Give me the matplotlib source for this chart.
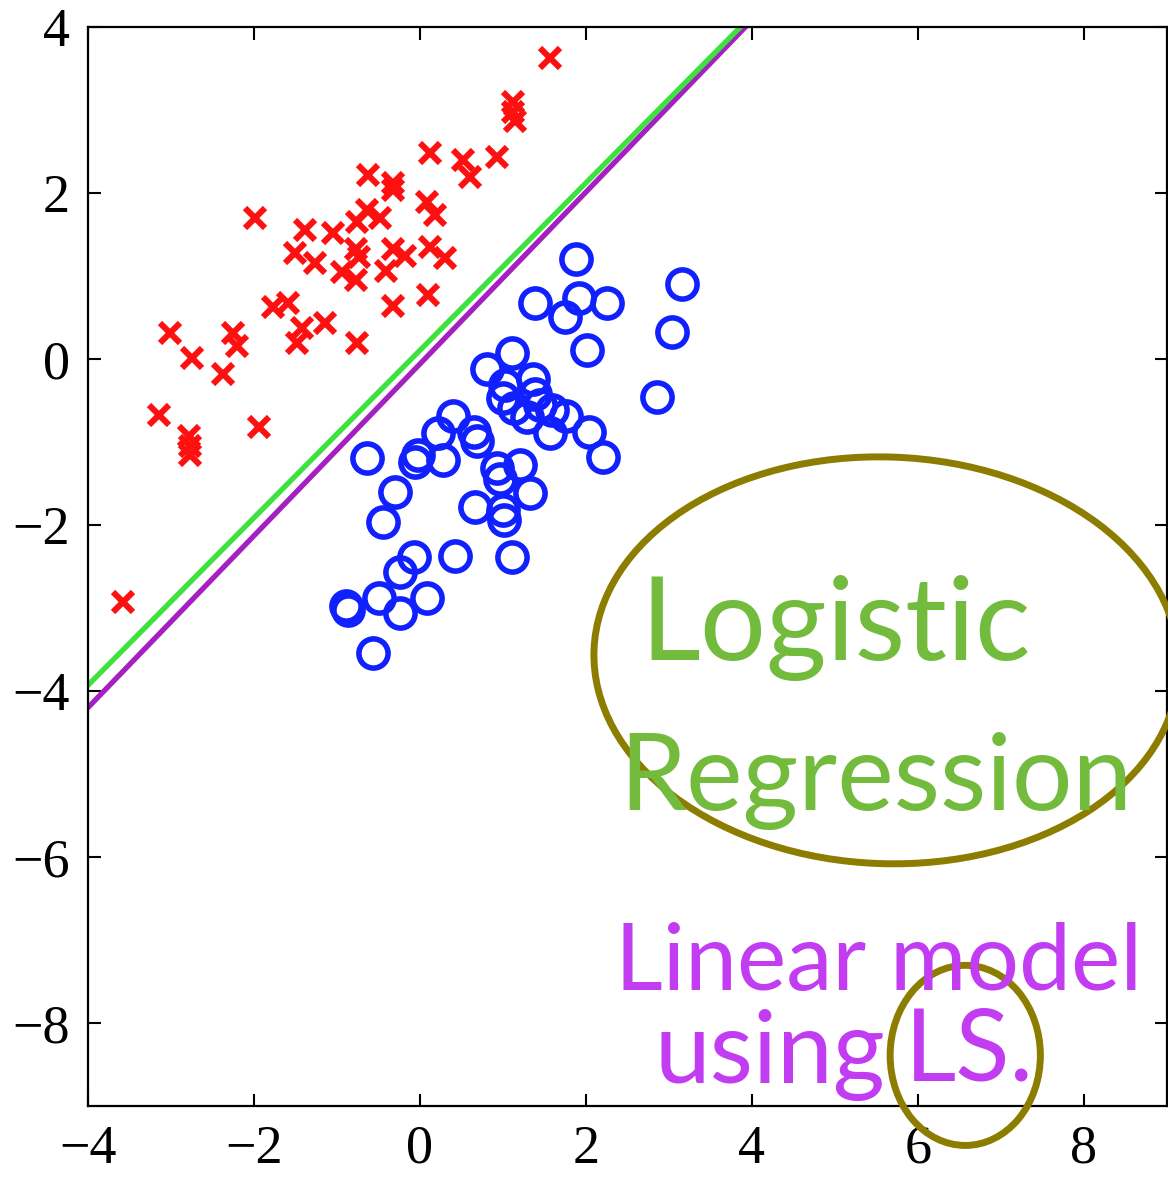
import matplotlib
matplotlib.use("Agg")
import matplotlib.pyplot as plt
from matplotlib.patches import Ellipse

# class 1 (red crosses)
red_x = [1.57, 1.12, 1.12, 1.14, 0.12, 0.52, 0.60, 0.93, -0.63, -0.33, -0.33, 0.08, 0.18,
         -0.64, -0.48, -0.76, -1.99, -1.39, -1.05, -1.51, -1.27, -0.77, -0.73, -0.94, -0.77,
         -0.41, -0.33, -0.18, 0.12, 0.30, -0.33, 0.10, -1.77, -1.59, -1.42, -1.48, -1.14,
         -0.76, -3.01, -2.75, -2.25, -2.20, -2.37, -3.14, -2.78, -2.77, -2.77, -1.94, -3.58]
red_y = [3.63, 3.10, 2.98, 2.87, 2.48, 2.40, 2.19, 2.43, 2.22, 2.12, 2.04, 1.89, 1.73,
         1.80, 1.70, 1.65, 1.70, 1.55, 1.52, 1.28, 1.16, 1.33, 1.23, 1.05, 0.95,
         1.06, 1.33, 1.24, 1.35, 1.22, 0.64, 0.77, 0.63, 0.67, 0.37, 0.19, 0.43,
         0.19, 0.31, 0.01, 0.31, 0.16, -0.18, -0.67, -0.93, -1.05, -1.16, -0.82, -2.93]

# class 2 (blue circles)
blue_x = [1.88, 1.39, 1.92, 2.25, 1.75, 2.01, 3.16, 3.04, 2.86, 1.11, 0.81, 1.02, 1.36,
          1.00, 1.13, 1.39, 1.45, 1.59, 1.29, 1.57, 1.76, 2.04, 2.20, 0.40, 0.22, 0.65,
          0.69, -0.64, -0.02, -0.06, 0.28, 0.93, 1.20, 0.96, 1.33, 0.66, 1.00, 1.01,
          -0.30, -0.45, 0.42, 1.11, -0.07, -0.24, -0.89, -0.87, -0.49, -0.24, 0.08, -0.57]
blue_y = [1.20, 0.67, 0.73, 0.67, 0.51, 0.11, 0.90, 0.33, -0.46, 0.07, -0.12, -0.31, -0.24,
          -0.47, -0.59, -0.42, -0.55, -0.61, -0.70, -0.89, -0.69, -0.88, -1.18, -0.69, -0.89, -0.88,
          -0.99, -1.19, -1.16, -1.24, -1.22, -1.31, -1.28, -1.45, -1.61, -1.78, -1.82, -1.94,
          -1.60, -1.96, -2.37, -2.39, -2.39, -2.57, -2.98, -3.02, -2.88, -3.06, -2.88, -3.54]

# decision boundaries (end points)
logreg_x = [-4.0, 3.86]
logreg_y = [-3.93, 4.0]
ls_x = [-4.0, 3.92]
ls_y = [-4.20, 4.0]

xticks = [-4, -2, 0, 2, 4, 6, 8]
yticks = [-8, -6, -4, -2, 0, 2, 4]

fig = plt.figure(figsize=(11.68, 11.77), dpi=100)
ax = fig.add_axes([0.0753, 0.0603, 0.9238, 0.9167])

ax.plot(red_x, red_y, linestyle="none", marker="x", ms=15, mew=4.4, color="#ff1010", zorder=3)
ax.plot(blue_x, blue_y, linestyle="none", marker="o", ms=21, mew=4.0, mfc="none",
        mec="#1020ff", zorder=3)
ax.plot(ls_x, ls_y, color="#a520c0", lw=3.8, zorder=2)
ax.plot(logreg_x, logreg_y, color="#3ee23e", lw=3.8, zorder=2)

ax.set_xlim(-4, 9)
ax.set_ylim(-9, 4)
ax.set_xticks(xticks)
ax.set_yticks(yticks)
ax.set_xticklabels([str(t).replace("-", "\u2212") for t in xticks])
ax.set_yticklabels([str(t).replace("-", "\u2212") for t in yticks])
ax.tick_params(direction="in", length=9, width=1.5, top=True, right=True, pad=13,
               labelsize=39)
for lab in ax.get_xticklabels() + ax.get_yticklabels():
    lab.set_family("Liberation Serif")
for sp in ax.spines.values():
    sp.set_linewidth(1.6)

# hand-written notes
hand = ["Lato", "DejaVu Sans"]
ax.text(2.65, -3.63, "Logistic", color="#72bb3d", fontsize=84, family=hand,
        va="baseline", ha="left", clip_on=False, zorder=5)
ax.text(2.40, -5.43, "Regression", color="#72bb3d", fontsize=77, family=hand,
        va="baseline", ha="left", clip_on=False, zorder=5)
ax.text(2.35, -7.60, "Linear model", color="#c23cf2", fontsize=67, family=hand,
        va="baseline", ha="left", clip_on=False, zorder=5)
ax.text(2.83, -8.72, "using", color="#c23cf2", fontsize=72, family=hand,
        va="baseline", ha="left", clip_on=False, zorder=5)
ax.text(5.84, -8.69, "LS.", color="#c23cf2", fontsize=72, family=hand,
        va="baseline", ha="left", clip_on=False, zorder=5)

ax.add_patch(Ellipse((5.62, -3.63), 7.05, 4.9, angle=-2, fill=False, lw=5,
                     ec="#8c7d00", clip_on=False, zorder=4))
ax.add_patch(Ellipse((6.57, -8.39), 1.81, 2.17, fill=False, lw=5,
                     ec="#8c7d00", clip_on=False, zorder=4))

fig.savefig("out.png", dpi=100)
